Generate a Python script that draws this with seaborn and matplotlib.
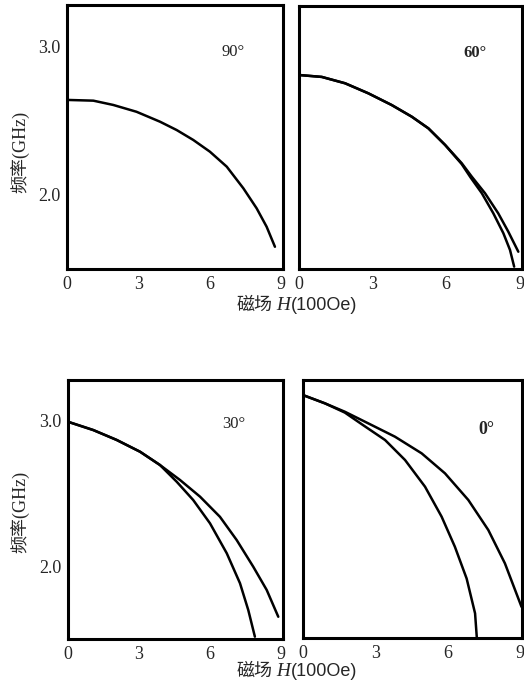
import matplotlib
matplotlib.use("Agg")
import matplotlib.pyplot as plt
from matplotlib.offsetbox import TextArea, HPacker, AnchoredOffsetbox
import seaborn as sns
import pandas as pd

# ---- data ----
angles = ["90°", "60°", "30°", "0°"]

h_90 = [0, 1.11, 1.95, 2.93, 3.92, 4.62, 5.32, 6.02, 6.73, 7.43, 7.99, 8.41, 8.76]
f_90 = [2.64, 2.635, 2.606, 2.56, 2.493, 2.437, 2.37, 2.291, 2.19, 2.044, 1.909, 1.785, 1.65]

h_60_a = [0, 0.93, 1.88, 2.83, 3.78, 4.6, 5.28, 5.96, 6.64, 7.05, 7.59, 8.13, 8.54, 8.95]
f_60_a = [2.813, 2.80, 2.757, 2.689, 2.61, 2.531, 2.452, 2.34, 2.216, 2.125, 2.013, 1.877, 1.753, 1.617]
h_60_b = [0, 0.93, 1.88, 2.83, 3.78, 4.6, 5.28, 5.96, 6.64, 7.0, 7.46, 7.93, 8.34, 8.61, 8.78]
f_60_b = [2.813, 2.80, 2.757, 2.689, 2.61, 2.531, 2.452, 2.34, 2.21, 2.12, 2.013, 1.877, 1.742, 1.629, 1.516]

h_30_a = [0, 1.07, 2.06, 3.05, 3.89, 4.74, 5.59, 6.43, 7.14, 7.84, 8.41, 8.9]
f_30_a = [2.993, 2.936, 2.868, 2.787, 2.696, 2.593, 2.478, 2.34, 2.18, 1.997, 1.837, 1.653]
h_30_b = [0, 1.07, 2.06, 3.05, 3.89, 4.6, 5.3, 6.01, 6.72, 7.28, 7.63, 7.91]
f_30_b = [2.993, 2.936, 2.868, 2.787, 2.696, 2.581, 2.455, 2.295, 2.089, 1.883, 1.699, 1.516]

h_0_a = [0, 0.91, 1.74, 2.71, 3.82, 4.93, 5.9, 6.87, 7.7, 8.39, 9.08]
f_0_a = [3.176, 3.119, 3.061, 2.981, 2.889, 2.774, 2.636, 2.452, 2.245, 2.015, 1.715]
h_0_b = [0, 0.91, 1.74, 2.44, 3.41, 4.24, 5.07, 5.76, 6.31, 6.8, 7.15, 7.22]
f_0_b = [3.176, 3.119, 3.055, 2.975, 2.866, 2.728, 2.544, 2.337, 2.13, 1.91, 1.67, 1.508]

x_ticks = [0, 3, 6, 9]
y_ticks = [2.0, 2.5, 3.0]
y_ticklabels = ["2.0", "", "3.0"]
x_label_parts = ["磁场", "H", "(100Oe)"]
y_label = "频率(GHz)"

curves = {
    "90°": [(h_90, f_90)],
    "60°": [(h_60_a, f_60_a), (h_60_b, f_60_b)],
    "30°": [(h_30_a, f_30_a), (h_30_b, f_30_b)],
    "0°": [(h_0_a, f_0_a), (h_0_b, f_0_b)],
}

rows = []
for ang, lst in curves.items():
    for i, (hs, fs) in enumerate(lst):
        for h, f in zip(hs, fs):
            rows.append({"angle": ang, "curve": i, "H": h, "F": f})
df = pd.DataFrame(rows)

sns.set_theme(style="white")
plt.rcParams["font.family"] = ["Liberation Serif", "Noto Sans CJK SC"]

W, H = 524, 692
fig = plt.figure(figsize=(W / 100, H / 100), dpi=100)

def ax_rect(l, r, t, b):
    return [l / W, 1 - b / H, (r - l) / W, (b - t) / H]

rects = {
    "90°": ax_rect(67, 283, 5, 269),
    "60°": ax_rect(299, 522, 6, 269),
    "30°": ax_rect(68, 283, 380, 639),
    "0°": ax_rect(303, 522, 380, 638),
}
label_pos = {"90°": (7.0, 2.96), "60°": (7.2, 2.96), "30°": (7.0, 2.98), "0°": (7.6, 2.94)}
label_style = {"90°": ("normal", 12), "60°": ("bold", 12), "30°": ("normal", 12), "0°": ("bold", 13)}

for k, ang in enumerate(angles):
    ax = fig.add_axes(rects[ang])
    sub = df[df["angle"] == ang]
    sns.lineplot(data=sub, x="H", y="F", units="curve", estimator=None,
                 color="black", linewidth=1.8, sort=False, ax=ax, legend=False)
    ax.set_xlim(0, 9.1)
    ax.set_ylim(1.5, 3.28)
    ax.set_xticks(x_ticks)
    ax.set_xticklabels([str(v) for v in x_ticks], fontsize=13)
    ax.set_yticks(y_ticks)
    if k % 2 == 0:
        ax.set_yticklabels(y_ticklabels, fontsize=13)
    else:
        ax.set_yticklabels([])
    ax.tick_params(direction="in", length=3, width=1.5, color="black", pad=5)
    ax.set_xlabel("")
    ax.set_ylabel("")
    for s in ax.spines.values():
        s.set_linewidth(2.2)
        s.set_color("black")
    weight, size = label_style[ang]
    ax.text(*label_pos[ang], ang, fontsize=size, ha="center", va="center", weight=weight)

def xlabel_at(ypix):
    parts = [
        TextArea(x_label_parts[0], textprops=dict(family="Noto Sans CJK SC", size=13, style="italic")),
        TextArea(" " + x_label_parts[1], textprops=dict(family="Liberation Serif", size=14, style="italic")),
        TextArea(x_label_parts[2], textprops=dict(family="Liberation Sans", size=13)),
    ]
    box = HPacker(children=parts, align="baseline", pad=0, sep=0)
    anch = AnchoredOffsetbox(loc="center", child=box, frameon=False, pad=0, borderpad=0,
                             bbox_to_anchor=(297 / W, 1 - ypix / H),
                             bbox_transform=fig.transFigure)
    fig.add_artist(anch)

xlabel_at(305)
xlabel_at(671)
fig.text(20 / W, 1 - 152 / H, y_label, fontsize=13, ha="center", va="center", rotation=90)
fig.text(20 / W, 1 - 512 / H, y_label, fontsize=13, ha="center", va="center", rotation=90)

fig.savefig("out.png", dpi=100)
